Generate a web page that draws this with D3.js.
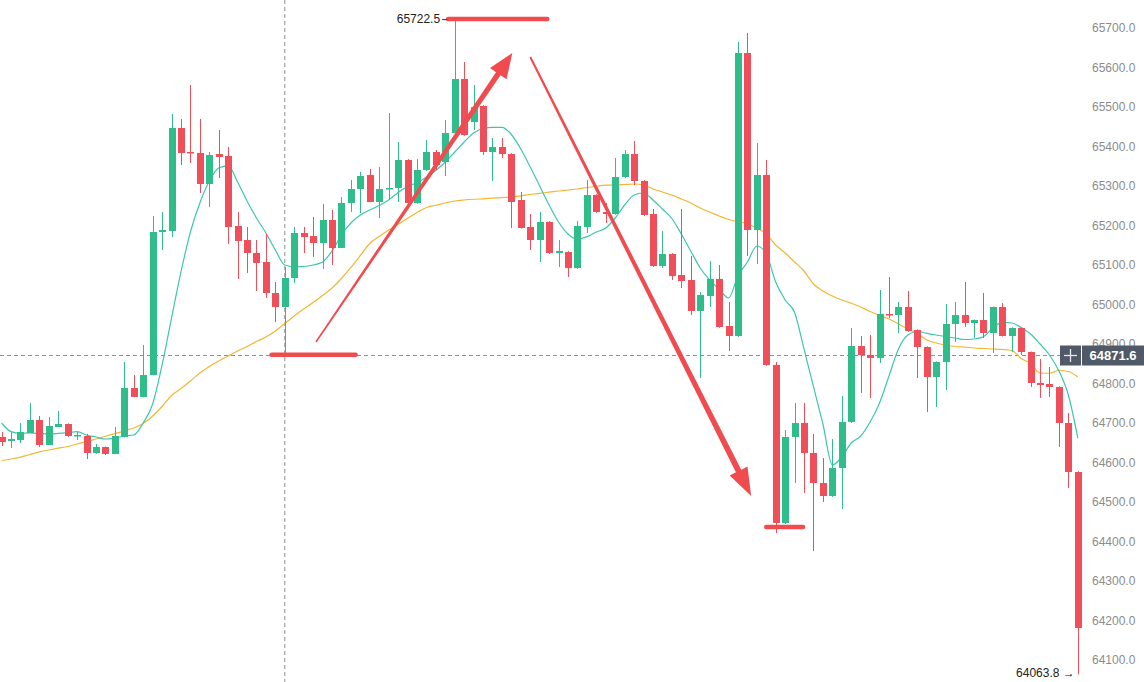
<!DOCTYPE html>
<html>
<head>
<meta charset="utf-8">
<script src="https://cdn.jsdelivr.net/npm/d3@7/dist/d3.min.js"></script>
<style>
  html, body { margin: 0; padding: 0; background: #ffffff; }
  svg { display: block; font-family: "Liberation Sans", Arial, sans-serif; }
</style>
</head>
<body>
<svg id="chart" width="1144" height="682"></svg>
<script>
// candles, oldest first
var opens = [64664.6,64654.5,64657.0,64674.7,64707.6,64644.3,64689.9,64697.5,64667.1,64667.1,
  64624.1,64639.3,64621.6,64664.6,64788.6,64765.9,64821.5,65183.6,65186.1,65446.9,
  65386.1,65383.6,65305.1,65381.0,65376.0,65198.8,65163.3,65130.4,65107.6,65029.1,
  64993.7,65067.1,65181.0,65173.4,65155.7,65213.9,65143.1,65257.0,65292.4,65327.9,
  65259.5,65292.4,65295.0,65365.8,65257.0,65340.5,65386.1,65360.8,65434.2,65570.9,
  65462.0,65502.6,65386.1,65398.8,65381.0,65264.6,65196.2,65163.3,65208.9,65130.4,
  65132.9,65092.4,65196.2,65277.2,65234.2,65229.1,65322.8,65381.0,65312.7,65229.1,
  65097.5,65127.9,65074.7,65062.1,64983.6,65021.5,65064.6,64945.6,64920.3,65636.7,
  65188.6,65327.9,64846.9,64446.9,64664.6,64700.0,64624.1,64548.1,64515.2,64586.1,
  64702.6,64895.0,64872.2,64864.6,64976.0,64973.4,64993.7,64935.5,64892.4,64816.5,
  64854.5,64950.7,64973.4,64953.2,64960.8,64927.9,64993.7,64920.3,64940.5,64879.8,
  64801.3,64798.8,64791.2,64700.0,64576.0];
var highs = [64677.2,64677.2,64700.0,64750.7,64717.8,64715.2,64730.4,64699.0,64677.2,64672.2,
  64646.9,64640.5,64689.9,64854.5,64821.5,64897.5,65224.1,65234.2,65482.3,65469.6,
  65555.7,65469.6,65386.1,65441.8,65398.8,65234.2,65196.2,65163.3,65178.5,65057.0,
  65095.0,65196.2,65196.2,65221.5,65254.5,65239.3,65272.2,65315.2,65335.5,65343.1,
  65348.1,65484.8,65411.4,65368.0,65368.4,65416.5,65391.2,65467.1,65722.5,65613.9,
  65555.7,65505.0,65421.5,65421.5,65383.0,65284.8,65229.1,65234.2,65211.0,65163.3,
  65135.0,65211.4,65315.2,65279.0,65257.0,65370.9,65391.2,65413.9,65315.0,65241.8,
  65186.1,65130.0,65241.8,65122.8,65031.7,65110.2,65100.0,65006.4,65664.6,65687.4,
  65408.9,65365.8,64854.5,64682.3,64750.7,64750.7,64672.2,64611.4,64659.5,64768.4,
  64940.5,64920.3,64922.8,65036.7,65069.6,65006.4,65034.2,64937.0,64894.0,64856.0,
  65001.3,65006.4,65057.0,64962.0,65029.1,64995.0,65003.8,64942.0,64942.0,64881.0,
  64862.1,64841.8,64793.0,64725.3,64578.0];
var lows = [64641.8,64636.7,64649.4,64674.7,64639.3,64644.3,64689.9,64665.0,64657.0,64608.9,
  64622.0,64619.0,64621.0,64664.0,64765.0,64765.0,64821.0,65138.0,65170.9,65353.2,
  65358.2,65282.3,65246.9,65320.3,65153.2,65064.6,65079.8,65034.2,65016.5,64955.7,
  64878.0,65054.5,65130.4,65120.3,65089.9,65100.0,65143.0,65234.2,65231.7,65259.0,
  65219.0,65264.6,65259.5,65255.0,65255.0,65338.0,65340.5,65325.3,65432.0,65427.0,
  65441.8,65378.5,65312.7,65370.9,65193.7,65192.0,65138.0,65107.6,65128.0,65095.0,
  65069.6,65090.0,65181.0,65232.0,65206.4,65227.0,65320.0,65302.6,65224.0,65095.0,
  65092.4,65062.1,65041.8,64973.4,64814.0,64993.7,64941.0,64882.3,64918.0,65122.8,
  65102.6,64845.0,64421.6,64444.0,64548.1,64522.8,64376.0,64500.0,64513.0,64482.3,
  64700.0,64776.0,64763.3,64851.9,64965.9,64927.9,64931.0,64814.0,64727.9,64740.5,
  64783.6,64905.1,64943.1,64915.2,64915.2,64877.2,64919.0,64879.8,64872.2,64791.2,
  64763.3,64765.9,64639.3,64535.5,64063.8];
var closes = [64651.9,64659.5,64677.2,64707.6,64644.3,64692.4,64697.5,64667.1,64669.7,64624.1,
  64639.3,64621.6,64667.1,64788.6,64765.9,64821.5,65183.6,65188.6,65446.9,65383.6,
  65383.6,65305.1,65378.5,65373.4,65196.2,65160.8,65130.4,65105.1,65029.1,64993.7,
  65067.1,65181.0,65170.9,65155.7,65213.9,65143.1,65257.0,65292.4,65325.3,65259.5,
  65292.4,65295.0,65365.8,65257.0,65340.5,65386.1,65353.2,65434.2,65570.9,65429.1,
  65500.0,65386.1,65398.8,65381.0,65259.5,65193.7,65163.3,65208.9,65130.4,65135.5,
  65092.4,65198.8,65277.2,65234.2,65229.1,65322.8,65381.0,65312.7,65226.6,65097.5,
  65127.9,65072.2,65059.5,64983.6,65024.1,65064.6,64943.1,64920.3,65636.7,65188.6,
  65327.9,64846.9,64446.9,64664.6,64700.0,64624.1,64548.1,64515.2,64586.1,64702.6,
  64895.0,64872.2,64864.6,64976.0,64973.4,64993.7,64932.9,64892.4,64816.5,64854.5,
  64950.7,64973.4,64953.2,64960.8,64927.9,64993.7,64920.3,64940.5,64879.8,64801.3,
  64796.2,64791.2,64700.0,64576.0,64181.1];

// moving averages as shown on the chart (fast = teal, slow = orange)
var maFast = [64700.0,64678.0,64674.0,64674.7,64673.5,64672.2,64673.5,64675.5,64678.0,64669.7,
  64664.6,64659.5,64662.1,64667.1,64669.7,64700.0,64748.1,64846.9,64965.8,65082.3,
  65183.6,65257.0,65312.7,65345.6,65350.7,65310.1,65262.0,65219.0,65181.0,65138.0,
  65100.0,65095.7,65096.2,65100.0,65107.6,65135.5,65176.0,65206.4,65226.6,65239.3,
  65250.7,65264.6,65283.6,65298.8,65308.4,65322.8,65339.3,65360.8,65386.1,65411.4,
  65434.2,65445.6,65448.6,65448.6,65430.4,65393.7,65348.1,65300.0,65251.9,65208.9,
  65178.5,65165.8,65171.7,65183.6,65193.7,65219.0,65251.9,65277.2,65282.3,65264.6,
  65241.8,65217.7,65178.5,65135.5,65092.4,65062.1,65039.3,65016.5,65072.2,65107.6,
  65148.1,65127.9,65057.0,65011.4,64979.8,64887.4,64791.9,64697.5,64593.7,64614.0,
  64649.4,64667.1,64702.6,64750.7,64819.0,64887.4,64922.8,64931.7,64927.1,64922.8,
  64919.0,64915.2,64911.4,64912.7,64918.5,64940.5,64954.5,64953.2,64941.8,64925.3,
  64900.0,64872.2,64831.7,64770.9,64662.0];
var maSlow = [64605.1,64608.9,64613.5,64620.3,64627.1,64631.7,64636.2,64640.5,64646.9,64652.7,
  64659.5,64666.4,64673.2,64679.8,64687.4,64698.8,64717.8,64741.8,64769.6,64787.4,
  64806.4,64826.6,64843.1,64857.0,64869.6,64882.3,64893.7,64906.4,64917.7,64932.9,
  64951.9,64970.9,64988.6,65005.1,65022.8,65041.8,65065.8,65093.7,65124.1,65154.5,
  65172.2,65188.6,65203.1,65218.3,65232.9,65245.6,65251.2,65257.0,65262.0,65264.6,
  65266.4,65267.6,65269.1,65270.7,65272.2,65275.2,65278.5,65281.5,65284.3,65287.4,
  65289.9,65292.4,65296.2,65299.3,65302.0,65302.6,65303.8,65305.1,65302.6,65292.4,
  65284.8,65277.2,65267.1,65257.0,65244.3,65234.2,65224.1,65215.2,65210.1,65203.8,
  65193.7,65178.5,65150.7,65130.4,65107.6,65084.8,65051.9,65034.2,65021.5,65011.4,
  65003.1,64993.7,64982.3,64972.2,64963.3,64950.7,64938.0,64926.6,64910.2,64902.6,
  64897.5,64893.7,64892.4,64889.9,64888.6,64887.4,64886.1,64883.6,64863.3,64850.7,
  64826.6,64826.0,64832.9,64830.4,64816.5];

var priceTicks = d3.range(64100, 65701, 100);
var crossIndex = 30, crossPrice = 64871.6;

// hand drawn markup: [candle index, price]
var upArrow = [[33.3, 64905.1], [54.1, 65636.7]];
var downArrow = [[56.0, 65626.6], [79.4, 64515.2]];
var levelLines = [
  { from: 47.3, to: 57.8, price: 65722.5 },
  { from: 28.6, to: 37.5, price: 64873.0 },
  { from: 81.0, to: 84.9, price: 64436.7 }
];

var GREEN = "#2ebd8b", RED = "#ee4f5a", MARK = "#f04b4f";

var svg = d3.select("#chart");
var n = opens.length;

var x = d3.scaleLinear().domain([0, n - 1]).range([1.6, 1077.8]);
var y = d3.scaleLinear().domain([64100, 65700]).range([660, 28]);

// price axis
var axis = d3.axisRight(y)
  .tickValues(priceTicks)
  .tickFormat(d3.format(".1f"))
  .tickSize(0)
  .tickPadding(0);

var gAxis = svg.append("g")
  .attr("transform", "translate(1092,0)")
  .call(axis);
gAxis.select(".domain").remove();
gAxis.selectAll("text")
  .attr("fill", "#8c8c8c")
  .attr("font-size", "12px")
  .attr("font-family", "Liberation Sans, Arial, sans-serif");

// crosshair
svg.append("line")
  .attr("x1", x(crossIndex)).attr("x2", x(crossIndex))
  .attr("y1", 0).attr("y2", 682)
  .attr("stroke", "#8f8f8f").attr("stroke-dasharray", "4,3");
svg.append("line")
  .attr("x1", 0).attr("x2", 1060)
  .attr("y1", Math.round(y(crossPrice)) + 0.5).attr("y2", Math.round(y(crossPrice)) + 0.5)
  .attr("stroke", "#8f8f8f").attr("stroke-dasharray", "4,3");

// moving averages
var line = d3.line()
  .x(function(d, i) { return x(i); })
  .y(function(d) { return y(d); })
  .curve(d3.curveMonotoneX);

svg.append("path").datum(maSlow)
  .attr("d", line).attr("fill", "none")
  .attr("stroke", "#f2b632").attr("stroke-width", 1.2);

svg.append("path").datum(maFast)
  .attr("d", line).attr("fill", "none")
  .attr("stroke", "#3cc7ad").attr("stroke-width", 1.2);

// candles
var bodyW = 7;
var candles = svg.append("g").selectAll("g")
  .data(d3.range(n))
  .enter().append("g");

candles.append("line")
  .attr("x1", function(i) { return Math.round(x(i)) + 0.5; })
  .attr("x2", function(i) { return Math.round(x(i)) + 0.5; })
  .attr("y1", function(i) { return y(highs[i]); })
  .attr("y2", function(i) { return y(lows[i]); })
  .attr("stroke", function(i) { return closes[i] >= opens[i] ? GREEN : RED; })
  .attr("stroke-width", 1);

candles.append("rect")
  .attr("x", function(i) { return Math.round(x(i)) + 0.5 - bodyW / 2; })
  .attr("width", bodyW)
  .attr("y", function(i) { return y(Math.max(opens[i], closes[i])); })
  .attr("height", function(i) { return Math.max(1.5, Math.abs(y(opens[i]) - y(closes[i]))); })
  .attr("fill", function(i) { return closes[i] >= opens[i] ? GREEN : RED; });

// level lines
svg.append("g").selectAll("line")
  .data(levelLines)
  .enter().append("line")
  .attr("x1", function(d) { return x(d.from); })
  .attr("x2", function(d) { return x(d.to); })
  .attr("y1", function(d) { return y(d.price); })
  .attr("y2", function(d) { return y(d.price); })
  .attr("stroke", MARK)
  .attr("stroke-width", 4.5)
  .attr("stroke-linecap", "round");

// tapered arrows
function arrowPoints(a, b, w0, w1, headLen, headHalf) {
  var x0 = x(a[0]), y0 = y(a[1]), x1 = x(b[0]), y1 = y(b[1]);
  var dx = x1 - x0, dy = y1 - y0, len = Math.sqrt(dx * dx + dy * dy);
  var ux = dx / len, uy = dy / len, nx = -uy, ny = ux;
  var bx = x1 - ux * headLen, by = y1 - uy * headLen;
  return [
    [x0 + nx * w0 / 2, y0 + ny * w0 / 2],
    [bx + nx * w1 / 2, by + ny * w1 / 2],
    [bx + nx * headHalf, by + ny * headHalf],
    [x1, y1],
    [bx - nx * headHalf, by - ny * headHalf],
    [bx - nx * w1 / 2, by - ny * w1 / 2],
    [x0 - nx * w0 / 2, y0 - ny * w0 / 2]
  ];
}

svg.append("polygon")
  .attr("points", arrowPoints(upArrow[0], upArrow[1], 1.5, 5.5, 25, 10).join(" "))
  .attr("fill", MARK);
svg.append("polygon")
  .attr("points", arrowPoints(downArrow[0], downArrow[1], 2, 6, 28, 10).join(" "))
  .attr("fill", MARK);

// high marker label
var highLevel = levelLines[0];
svg.append("line")
  .attr("x1", x(highLevel.from) - 6).attr("x2", x(highLevel.from) - 1)
  .attr("y1", y(highLevel.price) + 0.5).attr("y2", y(highLevel.price) + 0.5)
  .attr("stroke", "#333");
svg.append("text")
  .attr("x", x(highLevel.from) - 8)
  .attr("y", y(highLevel.price))
  .attr("dy", "0.35em")
  .attr("text-anchor", "end")
  .attr("font-size", "12px")
  .attr("fill", "#222")
  .text(d3.format(".1f")(highLevel.price));

// low marker label
svg.append("text")
  .attr("x", x(n - 1) - 3)
  .attr("y", y(lows[n - 1]) - 1)
  .attr("dy", "0.35em")
  .attr("text-anchor", "end")
  .attr("font-size", "12px")
  .attr("fill", "#222")
  .text(d3.format(".1f")(lows[n - 1]) + " \u2192");

// crosshair price tag
var cy = Math.round(y(crossPrice)) + 0.5;
svg.append("rect")
  .attr("x", 1060).attr("y", cy - 10).attr("width", 21).attr("height", 20)
  .attr("fill", "#505967");
svg.append("line")
  .attr("x1", 1064).attr("x2", 1077).attr("y1", cy).attr("y2", cy)
  .attr("stroke", "#e6e8eb").attr("stroke-width", 1.3);
svg.append("line")
  .attr("x1", 1070.5).attr("x2", 1070.5).attr("y1", cy - 6.5).attr("y2", cy + 6.5)
  .attr("stroke", "#e6e8eb").attr("stroke-width", 1.3);
svg.append("rect")
  .attr("x", 1082).attr("y", cy - 10).attr("width", 62).attr("height", 20)
  .attr("fill", "#505967");
svg.append("text")
  .attr("x", 1113).attr("y", cy)
  .attr("dy", "0.36em")
  .attr("text-anchor", "middle")
  .attr("font-size", "13px")
  .attr("font-weight", "bold")
  .attr("fill", "#ffffff")
  .text(d3.format(".1f")(crossPrice));
</script>
</body>
</html>
